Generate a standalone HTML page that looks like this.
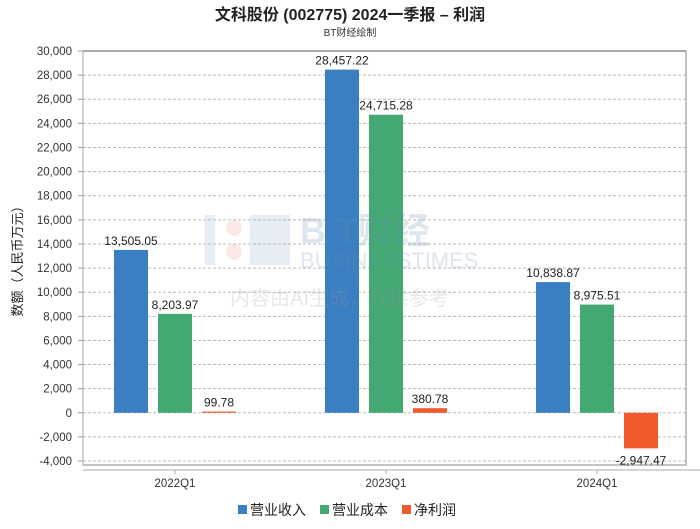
<!DOCTYPE html>
<html><head><meta charset="utf-8"><style>
body{margin:0;background:#fff;width:700px;height:524px;overflow:hidden}
svg text{font-family:"Liberation Sans","Noto Sans CJK SC",sans-serif}
</style></head><body>
<svg width="700" height="524" id="c">
<text x="350" y="20" text-anchor="middle" font-size="16" font-weight="bold" fill="#222">文科股份 (002775) 2024一季报  –  利润</text>
<text x="350" y="36" text-anchor="middle" font-size="10" fill="#333">BT财经绘制</text>
<g id="plot"></g>
<g opacity="0.22">
<rect x="205" y="215" width="10" height="50" fill="#8fb0d0"/><circle cx="234" cy="228" r="8" fill="#f0a090"/><circle cx="234" cy="252" r="8" fill="#f0a090"/>
<rect x="250" y="215" width="40" height="50" fill="#8fb0d0"/>
<text x="300" y="243" font-size="36" font-family="Liberation Serif" fill="#6a8fb3" font-weight="bold">B T财经</text>
<text x="300" y="268" font-size="22" font-family="Liberation Serif" fill="#6a8fb3">BUSINESSTIMES</text>
<text x="230" y="305" font-size="20" fill="#999">内容由AI生成，仅供参考</text>
</g>
<text transform="translate(22,258) rotate(-90)" text-anchor="middle" font-size="13" fill="#222">数额（人民币万元）</text>
<g>
<rect x="238" y="505" width="9" height="9" fill="#3a7fc1"/><text x="250" y="515" font-size="14" fill="#222">营业收入</text>
<rect x="320" y="505" width="9" height="9" fill="#43a872"/><text x="332" y="515" font-size="14" fill="#222">营业成本</text>
<rect x="402" y="505" width="9" height="9" fill="#f15a2a"/><text x="414" y="515" font-size="14" fill="#222">净利润</text>
</g>
</svg>
<script>
const categories=["2022Q1","2023Q1","2024Q1"];
const revenue=[13505.05,28457.22,10838.87];
const cost=[8203.97,24715.28,8975.51];
const profit=[99.78,380.78,-2947.47];
const yTicks=[-4000,-2000,0,2000,4000,6000,8000,10000,12000,14000,16000,18000,20000,22000,24000,26000,28000,30000];
const NS="http://www.w3.org/2000/svg";
const g=document.getElementById('plot');
const L=83,R=686,T=51,B=465;
const y=v=>412.8-(v/2000)*24.12;
const x=i=>175+i*211;
function mk(t,a,p){const e=document.createElementNS(NS,t);for(const k in a)e.setAttribute(k,a[k]);(p||g).appendChild(e);return e;}
const fmt=v=>v.toLocaleString('en-US',{minimumFractionDigits:2,maximumFractionDigits:2});
yTicks.forEach(v=>{
 const ln=mk('line',{x1:L,x2:R,y1:y(v),y2:y(v),stroke:'#bbb','stroke-dasharray':'3,2'});
 
 
 const t=mk('text',{x:72,y:y(v)+4,'text-anchor':'end','font-size':11.5,fill:'#333'});
 t.textContent=v.toLocaleString('en-US');
 
 
 mk('line',{x1:L-5,x2:L,y1:y(v),y2:y(v),stroke:'#999'});
});
mk('rect',{x:L,y:T,width:R-L,height:B-T,fill:'none',stroke:'#888'});
mk('line',{x1:L,x2:R,y1:T,y2:T,stroke:'#555'});
mk('line',{x1:L,x2:L,y1:T,y2:B,stroke:'#aaa'});
mk('line',{x1:L,x2:700,y1:B+5,y2:B+5,stroke:'#aaa'});
const series=[[revenue,'#3a7fc1','bar-revenue',-44],[cost,'#43a872','bar-cost',0],[profit,'#f15a2a','bar-profit',44]];
categories.forEach((c,i)=>{
 const t=mk('text',{x:x(i),y:487,'text-anchor':'middle','font-size':11.5,fill:'#333'});
 t.textContent=c;
 
 
 mk('line',{x1:x(i),x2:x(i),y1:B+5,y2:B+9,stroke:'#aaa'});
 series.forEach(([arr,col,nm,off])=>{
  const v=arr[i],cx=x(i)+off;
  const y0=y(0),y1=y(v);
  const r=mk('rect',{x:cx-17,y:Math.min(y0,y1),width:34,height:Math.max(Math.abs(y1-y0),1),fill:col});
  
  
  const lt=mk('text',{x:cx,y:v>=0?y1-5:y1+16,'text-anchor':'middle','font-size':12,fill:'#222'});
  lt.textContent=fmt(v);
  
  
 });
});
</script>
</body></html>
